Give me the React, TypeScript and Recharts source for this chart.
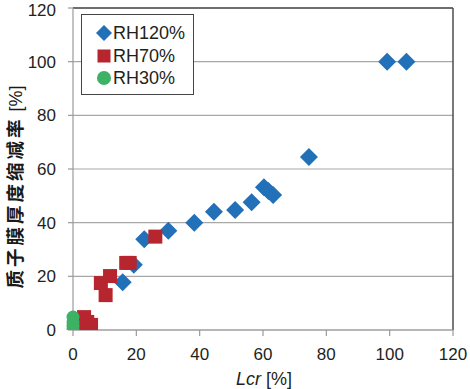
import React from "react";
import { ScatterChart, Scatter, XAxis, YAxis, CartesianGrid, ReferenceLine } from "recharts";

const xTicks = [0, 20, 40, 60, 80, 100, 120];
const yTicks = [0, 20, 40, 60, 80, 100, 120];

// RH120%
const rh120X = [1.5, 15.7, 19.2, 22.5, 30.1, 38.3, 44.5, 51.2, 56.4, 60.3, 61.7, 63.2, 74.5, 99.2, 105.3];
const rh120Y = [0, 17.8, 24.3, 33.8, 37, 40, 44.1, 44.7, 47.6, 53.2, 51.8, 50.3, 64.5, 100, 100];
// RH70%
const rh70X = [3.2, 5.7, 4.5, 3.5, 8.8, 10.3, 11.7, 16.8, 17.9, 26];
const rh70Y = [0.4, 1.9, 3, 4.8, 17.5, 13, 20.1, 25, 25, 34.8];
// RH30%
const rh30X = [0, 0, 0, 0];
const rh30Y = [0, 1.5, 3, 4.8];

const seriesNames = ["RH120%", "RH70%", "RH30%"];
const colors = ["#2170b8", "#b7262e", "#3db264"];

const zip = (xs: number[], ys: number[]) => xs.map((x, i) => ({ x, y: ys[i] }));

const Diamond = (p: any) => (
  <path d={`M${p.cx},${p.cy - 9}L${p.cx + 9},${p.cy}L${p.cx},${p.cy + 9}L${p.cx - 9},${p.cy}Z`} fill={colors[0]} />
);
const Square = (p: any) => <rect x={p.cx - 7} y={p.cy - 7} width={14} height={14} fill={colors[1]} />;
const Dot = (p: any) => <circle cx={p.cx} cy={p.cy} r={6.5} fill={colors[2]} />;

const font = "'Liberation Sans', Arial, sans-serif";
const tickStyle = { fill: "#231f20", fontSize: 17, fontFamily: font };

const legendIcon = (i: number) => {
  if (i === 0) return <path d="M8,0L16,8L8,16L0,8Z" fill={colors[0]} />;
  if (i === 1) return <rect x={1.5} y={1.5} width={13} height={13} fill={colors[1]} />;
  return <circle cx={8} cy={8} r={7} fill={colors[2]} />;
};

export default function App() {
  return (
    <div style={{ position: "absolute", left: 0, top: 0, width: 470, height: 389, background: "#fff", fontFamily: font }}>
      <ScatterChart width={470} height={389} margin={{ top: 8, right: 17, left: 13, bottom: 29 }}>
        <CartesianGrid vertical={false} stroke="#a8a8a8" strokeWidth={1.2} />
        <XAxis
          type="number"
          dataKey="x"
          domain={[0, 120]}
          ticks={xTicks}
          height={30}
          tickSize={6}
          tickMargin={12}
          tick={tickStyle}
          stroke="#9a9a9a"
          strokeWidth={1.2}
        />
        <YAxis
          type="number"
          dataKey="y"
          domain={[0, 120]}
          ticks={yTicks}
          allowDataOverflow
          width={60}
          tickSize={5}
          tickMargin={12}
          tick={tickStyle}
          stroke="#9a9a9a"
          strokeWidth={1.2}
        />
        <ReferenceLine y={120} stroke="#4d4d4d" strokeWidth={1.5} />
        <ReferenceLine x={120} stroke="#4d4d4d" strokeWidth={1.5} />
        <Scatter name={seriesNames[0]} data={zip(rh120X, rh120Y)} shape={Diamond} isAnimationActive={false} />
        <Scatter name={seriesNames[1]} data={zip(rh70X, rh70Y)} shape={Square} isAnimationActive={false} />
        <Scatter name={seriesNames[2]} data={zip(rh30X, rh30Y)} shape={Dot} isAnimationActive={false} />
      </ScatterChart>

      {/* legend box */}
      <div
        style={{
          position: "absolute",
          left: 81,
          top: 14,
          width: 111,
          height: 79,
          border: "1.2px solid #444",
          background: "#fff",
          boxSizing: "content-box",
        }}
      >
        {seriesNames.map((n, i) => (
          <div key={n} style={{ position: "absolute", left: 14, top: 9 + i * 22.5, height: 18, display: "flex", alignItems: "center" }}>
            <svg width={16} height={16} style={{ display: "block" }}>
              {legendIcon(i)}
            </svg>
            <span style={{ fontSize: 18, color: "#231f20", marginLeft: 1, lineHeight: "18px" }}>{n}</span>
          </div>
        ))}
      </div>

      {/* axis titles */}
      <svg width={470} height={389} style={{ position: "absolute", left: 0, top: 0, pointerEvents: "none" }}>
        <text
          transform="translate(22,187) rotate(-90)"
          textAnchor="middle"
          fontFamily="'Noto Sans CJK SC', sans-serif"
          fontSize={18.5}
          fill="#1a1a1a"
        >
          <tspan fontWeight="bold" letterSpacing={3}>质子膜厚度缩减率</tspan>
          <tspan fontFamily={font} fontSize={18}> [%]</tspan>
        </text>
        <text x={264} y={385} textAnchor="middle" fontFamily={font} fontSize={18} fill="#231f20">
          <tspan fontStyle="italic">Lcr</tspan>
          <tspan> [%]</tspan>
        </text>
      </svg>
    </div>
  );
}
